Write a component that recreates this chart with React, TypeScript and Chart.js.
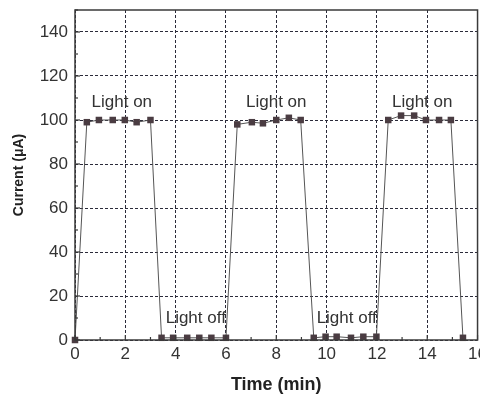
import React, { useEffect, useRef } from 'react';
import { Chart, registerables } from 'chart.js';

Chart.register(...registerables);

const timeMin = [0, 0.47, 0.95, 1.5, 1.98, 2.45, 3.0, 3.44, 3.9, 4.46, 4.94, 5.42, 6.0, 6.45, 7.03, 7.47, 8.0, 8.5, 8.97, 9.49, 9.96, 10.4, 10.97, 11.46, 11.98, 12.45, 12.96, 13.48, 13.95, 14.47, 14.94, 15.42];
const currentUA = [0, 99, 100, 100, 100, 99, 100, 1, 1, 1, 1, 1, 1, 98, 99, 98.5, 100, 101, 100, 1, 1.5, 1.5, 1, 1.5, 1.5, 100, 102, 102, 100, 100, 100, 1];

const xMin = 0;
const xMax = 16;
const yMin = 0;
const yMax = 150;
const xStep = 2;
const yStep = 20;

const noteTexts = ['Light on', 'Light on', 'Light on', 'Light off', 'Light off'];
const noteX = [1.86, 8.0, 13.8, 4.8, 10.8];
const noteY = [108, 108, 108, 10, 10];

const FONT = "'Liberation Sans', Arial, sans-serif";

const framePlugin = {
  id: 'frameTicksNotes',
  afterDraw(chart: any) {
    const { ctx, chartArea } = chart;
    const xs = chart.scales.x;
    const ys = chart.scales.y;
    ctx.save();
    ctx.strokeStyle = '#3a3a3a';
    ctx.lineWidth = 1.5;
    ctx.strokeRect(chartArea.left, chartArea.top, chartArea.right - chartArea.left, chartArea.bottom - chartArea.top);
    ctx.lineWidth = 1.2;
    for (let v = xMin; v <= xMax; v += 1) {
      const px = xs.getPixelForValue(v);
      const len = v % 2 === 0 ? 5 : 3;
      ctx.beginPath();
      ctx.moveTo(px, chartArea.bottom);
      ctx.lineTo(px, chartArea.bottom - len);
      ctx.stroke();
    }
    for (let v = yMin; v <= yMax; v += 10) {
      const py = ys.getPixelForValue(v);
      const len = v % 20 === 0 ? 5 : 3;
      ctx.beginPath();
      ctx.moveTo(chartArea.left, py);
      ctx.lineTo(chartArea.left + len, py);
      ctx.stroke();
    }
    ctx.fillStyle = '#333333';
    ctx.font = `17px ${FONT}`;
    ctx.textAlign = 'center';
    ctx.textBaseline = 'middle';
    noteTexts.forEach((t, i) => {
      ctx.fillText(t, xs.getPixelForValue(noteX[i]), ys.getPixelForValue(noteY[i]));
    });
    ctx.restore();
  },
};

export default function App() {
  const ref = useRef<HTMLCanvasElement | null>(null);
  useEffect(() => {
    document.body.style.overflow = 'hidden';
    document.body.style.margin = '0';
    const chart = new Chart(ref.current as HTMLCanvasElement, {
      type: 'line',
      data: {
        datasets: [
          {
            data: timeMin.map((t, i) => ({ x: t, y: currentUA[i] })),
            borderColor: '#555555',
            borderWidth: 1,
            pointStyle: 'rect',
            pointRadius: 4.6,
            pointBackgroundColor: '#4a3c42',
            pointBorderColor: '#4a3c42',
            pointBorderWidth: 0,
            tension: 0,
            clip: false as any,
          },
        ],
      },
      options: {
        responsive: false,
        animation: false,
        events: [],
        layout: { padding: { left: 0, right: 12, top: 10, bottom: 0 } },
        plugins: { legend: { display: false }, tooltip: { enabled: false } },
        scales: {
          x: {
            type: 'linear',
            min: xMin,
            max: xMax,
            ticks: {
              stepSize: xStep,
              padding: 4,
              color: '#333333',
              font: { family: FONT, size: 17 },
            },
            grid: {
              color: '#2b2b3a',
              lineWidth: 1,
              drawTicks: false,
            },
            border: { display: false, dash: [3, 2] },
            title: {
              display: true,
              text: 'Time (min)',
              color: '#222222',
              font: { family: FONT, size: 18, weight: 'bold' },
              padding: { top: 0, bottom: 1 },
            },
            afterFit(scale: any) {
              scale.height = 57;
            },
          },
          y: {
            type: 'linear',
            min: yMin,
            max: yMax,
            ticks: {
              stepSize: yStep,
              padding: 7,
              color: '#333333',
              font: { family: FONT, size: 17 },
            },
            afterBuildTicks(scale: any) {
              scale.ticks = scale.ticks.filter((t: any) => t.value <= 140);
            },
            grid: {
              color: '#2b2b3a',
              lineWidth: 1,
              drawTicks: false,
            },
            border: { display: false, dash: [3, 2] },
            title: {
              display: true,
              text: 'Current (μA)',
              color: '#222222',
              font: { family: FONT, size: 14, weight: 'bold' },
              padding: { top: 11, bottom: 0 },
            },
            afterFit(scale: any) {
              scale.width = 75;
              scale.paddingTop = 0;
              scale.paddingBottom = 0;
            },
          },
        },
      } as any,
      plugins: [framePlugin],
    });
    return () => chart.destroy();
  }, []);
  return (
    <div style={{ position: 'absolute', left: 0, top: 0, width: 491, height: 397 }}>
      <canvas ref={ref} width={491} height={397} />
    </div>
  );
}
